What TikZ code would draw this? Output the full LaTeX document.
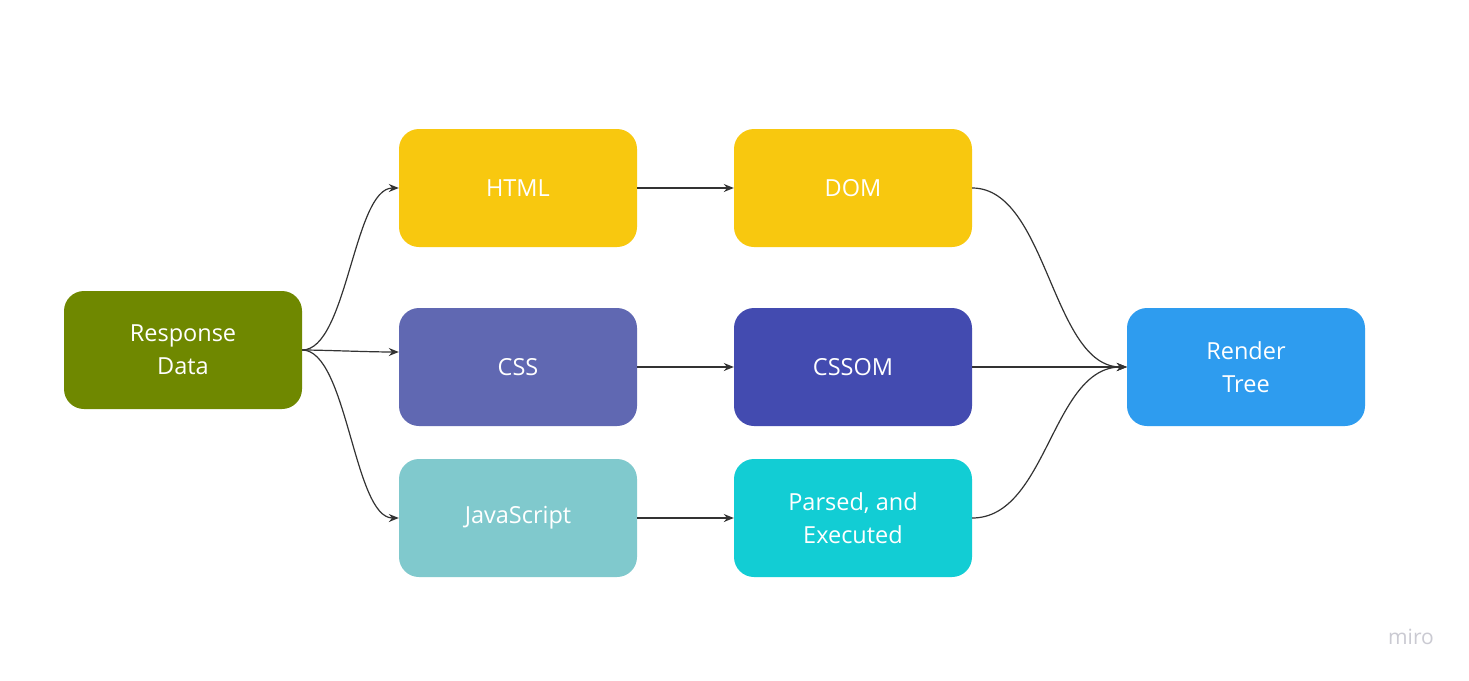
\documentclass[tikz,border=0pt]{standalone}
\usepackage{fontspec}
\setmainfont{Open Sans}
\usetikzlibrary{arrows.meta}
\definecolor{cResp}{HTML}{6F8800}
\definecolor{cYel}{HTML}{F8C80F}
\definecolor{cCss}{HTML}{6068B2}
\definecolor{cCssom}{HTML}{434BB0}
\definecolor{cJs}{HTML}{80C9CD}
\definecolor{cPars}{HTML}{12CDD4}
\definecolor{cRend}{HTML}{2E9CEF}
\definecolor{cLine}{HTML}{333333}
\definecolor{cMiro}{HTML}{CACAD2}
\begin{document}
\begin{tikzpicture}[x=1pt,y=-1pt,
  box/.style={rounded corners=20pt, minimum width=238pt, minimum height=118pt,
    inner sep=0pt, text=white, align=center,
    font=\fontsize{23.5}{33}\selectfont},
  conn/.style={draw=cLine, line width=1.2pt, -{Stealth[length=10pt,width=8pt]}}]
\useasboundingbox (0,0) rectangle (1469,680);
\fill[white] (0,0) rectangle (1469,680);
\node[box, fill=cResp] (resp) at (183,350) {Response\\Data};
\node[box, fill=cYel] (html) at (518,188) {HTML};
\node[box, fill=cYel] (dom) at (853,188) {DOM};
\node[box, fill=cCss] (css) at (518,367) {CSS};
\node[box, fill=cCssom] (cssom) at (853,367) {CSSOM};
\node[box, fill=cJs] (js) at (518,518) {JavaScript};
\node[box, fill=cPars] (pars) at (853,518) {Parsed, and\\Executed};
\node[box, fill=cRend] (rend) at (1246,367) {Render\\Tree};
\node[text=cMiro, font=\fontsize{21}{24}\selectfont, anchor=center] (miro) at (1411,637) {miro};
\draw[conn] (resp.east) .. controls +(45,0) and +(-45,0) .. (html.west);
\draw[conn] (resp.east) .. controls +(20,0) and +(-30,0) .. ([yshift=15pt]css.west);
\draw[conn] (resp.east) .. controls +(45,0) and +(-45,0) .. (js.west);
\draw[conn] (html.east) -- (dom.west);
\draw[conn] (css.east) -- (cssom.west);
\draw[conn] (js.east) -- (pars.west);
\draw[conn] (dom.east) .. controls +(75,0) and +(-75,0) .. (rend.west);
\draw[conn] (cssom.east) -- (rend.west);
\draw[conn] (pars.east) .. controls +(75,0) and +(-75,0) .. (rend.west);
\end{tikzpicture}
\end{document}
